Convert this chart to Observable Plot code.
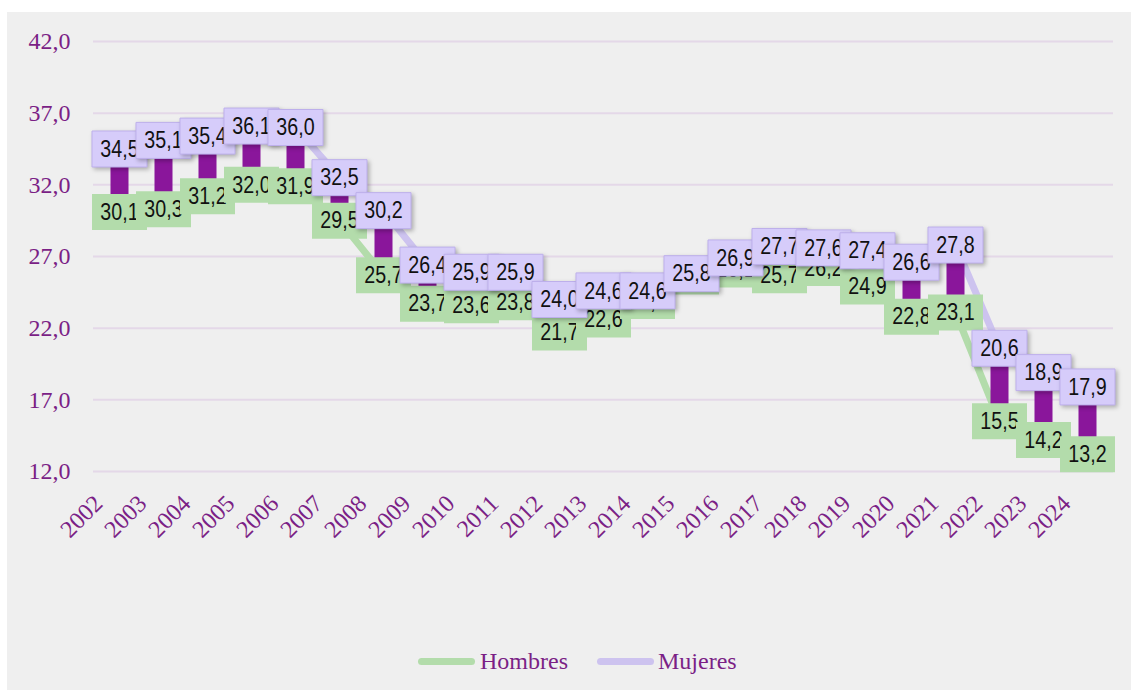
<!DOCTYPE html>
<html>
<head>
<meta charset="utf-8">
<script src="https://cdn.jsdelivr.net/npm/d3@7"></script>
<script src="https://cdn.jsdelivr.net/npm/@observablehq/plot@0.6"></script>
<style>
  html, body { margin: 0; padding: 0; background: #ffffff; }
  #panel { position: absolute; left: 7px; top: 12px; width: 1124px; height: 678px; background: #efefef; }
  #chart { position: absolute; left: 0; top: 0; }
  #legend { position: absolute; left: 0; top: 644px; width: 1131px; height: 34px; font-family: "Liberation Serif", serif; font-size: 24px; color: #7b1f86; }
  .item { position: absolute; top: 0; height: 34px; line-height: 34px; }
  .sw { position: absolute; top: 14px; width: 57px; height: 7px; border-radius: 4px; }
  svg g[fill="#d6ccfa"] { filter: drop-shadow(2px 2px 2px rgba(0,0,0,0.28)); }
</style>
</head>
<body>
<div id="panel"></div>
<div id="chart"></div>
<div id="legend">
  <div class="sw" style="left:418px;background:#b3dcab"></div>
  <div class="item" style="left:480px">Hombres</div>
  <div class="sw" style="left:597px;background:#cdc3ef"></div>
  <div class="item" style="left:658px">Mujeres</div>
</div>
<script>
const years = ["2002","2003","2004","2005","2006","2007","2008","2009","2010","2011","2012","2013","2014","2015","2016","2017","2018","2019","2020","2021","2022","2023","2024"];
const hombres = [30.1, 30.3, 31.2, 32.0, 31.9, 29.5, 25.7, 23.7, 23.6, 23.8, 21.7, 22.6, 23.9, 25.6, 26.1, 25.7, 26.2, 24.9, 22.8, 23.1, 15.5, 14.2, 13.2];
const mujeres = [34.5, 35.1, 35.4, 36.1, 36.0, 32.5, 30.2, 26.4, 25.9, 25.9, 24.0, 24.6, 24.6, 25.8, 26.9, 27.7, 27.6, 27.4, 26.6, 27.8, 20.6, 18.9, 17.9];
const yTicks = [12, 17, 22, 27, 32, 37, 42];

const data = years.map((year, i) => ({year, hombres: hombres[i], mujeres: mujeres[i]}));
const fmt = v => v.toFixed(1).replace(".", ",");

const purple = "#7b1f86";
const boxSymbol = {draw(ctx) { ctx.rect(-27.5, -18, 55, 36); }};
const labelFont = "Liberation Sans";

function labels(key, fill, stroke) {
  const marks = [];
  for (const d of data) {
    marks.push(Plot.dot([d], {x: "year", y: key, symbol: boxSymbol, r: 1, fill, stroke: stroke || "none", strokeWidth: 1}));
    marks.push(Plot.text([d], {x: "year", y: key, text: d => fmt(d[key]), fontFamily: labelFont, fontSize: 24, fill: "#111111"}));
  }
  return marks;
}

const chart = Plot.plot({
  width: 1131,
  height: 560,
  marginLeft: 93,
  marginRight: 18,
  marginTop: 41,
  marginBottom: 89,
  style: {background: "transparent", color: purple, fontFamily: "'Liberation Serif', serif", overflow: "visible"},
  x: {type: "band", domain: years, padding: 0, label: null},
  y: {domain: [12, 42], label: null},
  marks: [
    Plot.gridY(yTicks, {stroke: "#e4d8e8", strokeOpacity: 1, strokeWidth: 2}),
    Plot.axisY(yTicks, {tickSize: 0, tickPadding: 23, tickFormat: fmt, fontSize: 24, label: null}),
    Plot.axisX({tickSize: 0, tickRotate: -45, tickPadding: 28, dx: -21, fontSize: 24, label: null}),
    Plot.line(data, {x: "year", y: "hombres", stroke: "#b3dcab", strokeWidth: 7, strokeLinejoin: "round"}),
    Plot.line(data, {x: "year", y: "mujeres", stroke: "#cdc3ef", strokeWidth: 7, strokeLinejoin: "round"}),
    Plot.ruleX(data, {x: "year", y1: "hombres", y2: "mujeres", stroke: "#8a169b", strokeWidth: 18}),
    ...labels("hombres", "#b3dcab", null),
    ...labels("mujeres", "#d6ccfa", "#bdafeb")
  ]
});
// condense the data-label glyphs horizontally (narrow face not installed)
chart.querySelectorAll(`g[font-family="${labelFont}"] text`).forEach(t => {
  const tr = t.getAttribute("transform") || "";
  t.setAttribute("transform", tr + " scale(0.82,1)");
});
document.getElementById("chart").appendChild(chart);
</script>
</body>
</html>
